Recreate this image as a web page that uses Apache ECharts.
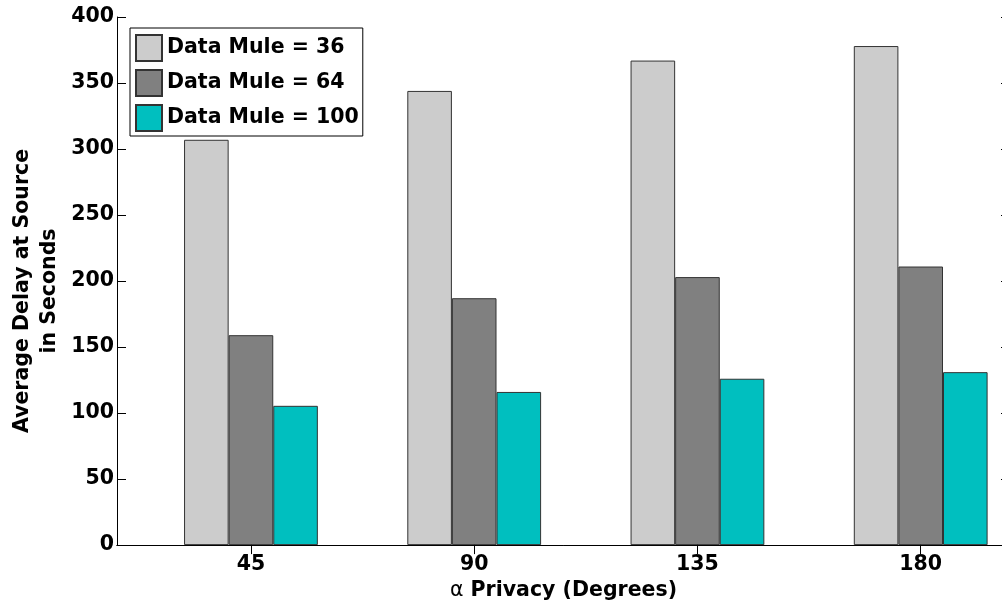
<!DOCTYPE html>
<html>
<head>
<meta charset="utf-8">
<script src="https://cdn.jsdelivr.net/npm/echarts@6/dist/echarts.min.js"></script>
<style>
html,body{margin:0;padding:0;background:#fff;overflow:hidden;width:1002px;height:606px;}
#chart{width:1012px;height:606px;}
</style>
</head>
<body>
<div id="chart"></div>
<script>
const categories = ['45', '90', '135', '180'];
const seriesNames = ['Data Mule = 36', 'Data Mule = 64', 'Data Mule = 100'];
const mule36 = [307, 344, 367, 378];
const mule64 = [159, 187, 203, 211];
const mule100 = [105.5, 116, 126, 131];
const yTicks = [0, 50, 100, 150, 200, 250, 300, 350, 400];

const FONT = "'DejaVu Sans', 'Liberation Sans', Arial, sans-serif";
const FS = 20.5;
const colors = ['#cccccc', '#808080', '#00bfbf'];
const xPos = categories.map((c, i) => i + 1);
const allSeries = [mule36, mule64, mule100];

const chart = echarts.init(document.getElementById('chart'), null, {renderer: 'canvas', width: 1012, height: 606});

const xCommon = {
  type: 'value',
  min: 0.4,
  max: 4.4,
  splitLine: {show: false},
  axisLine: {show: true, lineStyle: {color: '#000', width: 1}},
  axisTick: {show: true, inside: true, length: 9, customValues: xPos, lineStyle: {color: '#000'}}
};
const yCommon = {
  type: 'value',
  min: 0,
  max: 400,
  interval: 50,
  splitLine: {show: false},
  axisLine: {show: true, lineStyle: {color: '#000', width: 1}},
  axisTick: {show: true, inside: true, length: 9, lineStyle: {color: '#000'}}
};

chart.setOption({
  animation: false,
  backgroundColor: '#fff',
  grid: {left: 117, top: 17, right: 2, bottom: 59.5, containLabel: false},
  xAxis: [
    Object.assign({}, xCommon, {
      position: 'bottom',
      name: '{a|α} Privacy (Degrees)',
      nameLocation: 'middle',
      nameGap: 31,
      nameTextStyle: {
        fontFamily: FONT, fontSize: FS, fontWeight: 'bold', color: '#000',
        rich: {a: {fontFamily: FONT, fontSize: FS, fontWeight: 'normal', color: '#000'}}
      },
      axisLabel: {
        show: true, margin: 9, customValues: xPos,
        formatter: v => categories[Math.round(v) - 1] || '',
        fontFamily: FONT, fontSize: FS, fontWeight: 'bold', color: '#000'
      }
    }),
    Object.assign({}, xCommon, {position: 'top', axisLabel: {show: false}})
  ],
  yAxis: [
    Object.assign({}, yCommon, {
      position: 'left',
      axisLabel: {
        show: true, margin: 3, customValues: yTicks,
        fontFamily: FONT, fontSize: FS, fontWeight: 'bold', color: '#000'
      }
    }),
    Object.assign({}, yCommon, {position: 'right', axisLabel: {show: false}})
  ],
  legend: {
    orient: 'vertical',
    left: 130,
    top: 28,
    data: seriesNames,
    backgroundColor: '#fff',
    borderColor: '#000',
    borderWidth: 1,
    padding: [6, 4, 4, 5],
    itemWidth: 26,
    itemHeight: 26,
    itemGap: 7,
    icon: 'rect',
    textStyle: {fontFamily: FONT, fontSize: FS, fontWeight: 'bold', color: '#000'}
  },
  graphic: [{
    type: 'text',
    x: 36,
    y: 291,
    rotation: Math.PI / 2,
    style: {
      text: 'Average Delay at Source\nin Seconds',
      fontFamily: FONT,
      fontSize: FS,
      fontWeight: 'bold',
      fill: '#000',
      align: 'center',
      verticalAlign: 'middle',
      lineHeight: 27
    }
  }],
  series: allSeries.map((vals, si) => ({
    name: seriesNames[si],
    type: 'bar',
    xAxisIndex: 0,
    yAxisIndex: 0,
    barWidth: 44.6,
    barGap: '0%',
    itemStyle: {color: colors[si], borderColor: '#333', borderWidth: 1},
    data: vals.map((v, i) => [xPos[i], v])
  }))
});
</script>
</body>
</html>
